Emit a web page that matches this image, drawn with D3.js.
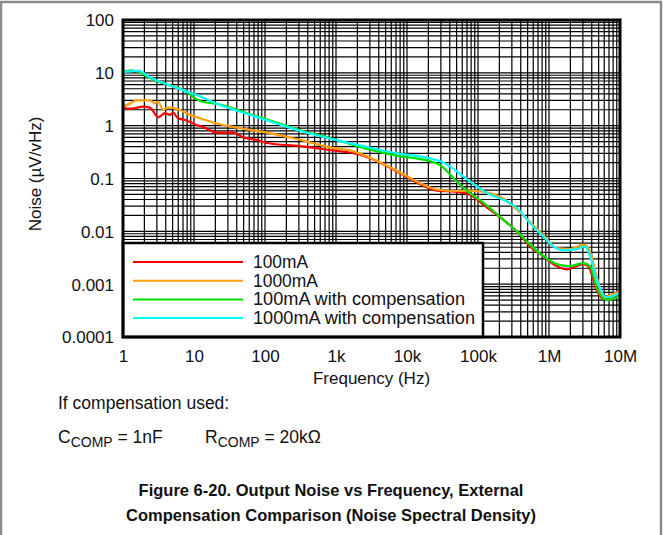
<!DOCTYPE html>
<html><head><meta charset="utf-8">
<script src="https://cdn.jsdelivr.net/npm/d3@7"></script>
<style>
html,body{margin:0;padding:0;background:#fff;}
svg{display:block;font-family:"Liberation Sans",Arial,sans-serif;}
</style></head>
<body>
<svg id="chart" width="663" height="535"></svg>
<script>
// ---- data (frequency Hz, noise µV/√Hz) ----
const seriesNames = ["100mA", "1000mA", "100mA with compensation", "1000mA with compensation"];
const seriesColors = ["#ff0000", "#ff9f10", "#00e000", "#00ffff"];
const xTickValues = [1, 10, 100, 1e3, 1e4, 1e5, 1e6, 1e7];
const xTickLabels = ["1", "10", "100", "1k", "10k", "100k", "1M", "10M"];
const yTickValues = [100, 10, 1, 0.1, 0.01, 0.001, 0.0001];
const yTickLabels = ["100", "10", "1", "0.1", "0.01", "0.001", "0.0001"];

const red100mA = [[1.0,2.35],[1.13,2.1],[1.3,2.1],[1.93,2.3],[2.4,2.2],[3.14,1.44],[3.9,1.72],[4.59,1.6],[5.06,1.77],[5.95,1.38],[7.47,1.28],[10.9,1.03],[13.4,0.95],[20.9,0.74],[35.4,0.74],[49,0.6],[76,0.54],[106,0.47],[311,0.41],[908,0.34],[1575,0.31],[2425,0.27],[7160,0.137],[13700,0.084],[26200,0.059],[50100,0.056],[77100,0.049],[119000,0.032],[227000,0.0166],[351000,0.01],[540000,0.0052],[832000,0.0034],[1.28e6,0.0022],[1.77e6,0.0019],[2.46e6,0.0022],[3.04e6,0.0024],[3.58e6,0.0022],[4.7e6,0.00076],[5.82e6,0.00053],[1e7,0.00066]];
const orange1000mA = [[1.0,2.6],[1.1,2.45],[1.56,3.0],[2.4,3.0],[2.8,2.65],[3.14,2.85],[3.66,2.0],[4.3,2.2],[6.35,1.98],[8.8,1.6],[12.2,1.38],[20.9,1.1],[35.4,0.95],[61.5,0.83],[106,0.74],[311,0.54],[908,0.38],[1575,0.34],[2425,0.28],[7160,0.14],[13700,0.088],[26200,0.062],[50100,0.058],[77100,0.059],[147700,0.053],[227000,0.042],[351000,0.026],[540000,0.015],[832000,0.0085],[1.28e6,0.0048],[1.98e6,0.0046],[3.04e6,0.0056],[3.58e6,0.0049],[4.7e6,0.0014],[5.82e6,0.00056],[9e6,0.00069],[1e7,0.0007]];
const green100mAComp = [[1.0,10.5],[1.3,11.2],[1.63,10.5],[2.4,8.0],[4.12,6.0],[7.0,4.8],[10.9,3.15],[13.4,2.8],[20.9,2.6],[61.5,1.65],[146,1.15],[311,0.82],[908,0.56],[2425,0.38],[7160,0.27],[18900,0.22],[29200,0.18],[50100,0.088],[77100,0.053],[119000,0.035],[227000,0.0166],[351000,0.0101],[540000,0.0056],[832000,0.0034],[1.28e6,0.0024],[1.98e6,0.0022],[3.04e6,0.0025],[3.78e6,0.0022],[4.7e6,0.00087],[6.5e6,0.0005],[1e7,0.0006]];
const cyan1000mAComp = [[1.0,10.3],[1.13,10.5],[1.63,11.0],[2.4,8.2],[4.12,6.1],[7.0,4.7],[10.9,3.8],[20.9,2.6],[61.5,1.6],[146,1.1],[311,0.8],[908,0.55],[2425,0.41],[7160,0.30],[21100,0.24],[32500,0.2],[50100,0.137],[77100,0.088],[133000,0.053],[254000,0.037],[351000,0.028],[540000,0.0143],[832000,0.008],[1.15e6,0.0052],[1.59e6,0.0044],[2.46e6,0.0046],[3.21e6,0.0052],[3.78e6,0.0034],[4.7e6,0.0012],[6.5e6,0.00056],[1e7,0.00069]];
const allSeries = [red100mA, orange1000mA, green100mAComp, cyan1000mAComp];

// ---- layout ----
const svg = d3.select("#chart");
const L = 123, R = 620, T = 20, B = 337;
const x = d3.scaleLog().domain([1, 1e7]).range([L, R]);
const y = d3.scaleLog().domain([1e-4, 100]).range([B, T]);

// outer grey frame
svg.append("path").attr("d", "M1,535 V2 H661 V535").attr("fill", "none").attr("stroke", "#8a8a8a").attr("stroke-width", 2.5);

// grid
const minorX = [], minorY = [];
for (let e = 0; e < 7; e++) for (let k = 1; k < 10; k++) minorX.push(k * Math.pow(10, e));
for (let e = -4; e < 2; e++) for (let k = 1; k < 10; k++) minorY.push(k * Math.pow(10, e));
const grid = svg.append("g").attr("stroke", "#000").attr("stroke-width", 1.2);
grid.selectAll("line.vx").data(minorX).join("line")
  .attr("x1", d => x(d)).attr("x2", d => x(d)).attr("y1", T).attr("y2", B);
grid.selectAll("line.hy").data(minorY).join("line")
  .attr("y1", d => y(d)).attr("y2", d => y(d)).attr("x1", L).attr("x2", R);

// curves
const line = d3.line().x(d => x(d[0])).y(d => y(d[1])).curve(d3.curveMonotoneX);
const plot = svg.append("g");
allSeries.forEach((s, i) => {
  plot.append("path").datum(s).attr("d", line).attr("fill", "none")
    .attr("stroke", seriesColors[i]).attr("stroke-width", 2.2);
});

// legend
const lg = svg.append("g");
lg.append("rect").attr("x", L).attr("y", 243).attr("width", 360).attr("height", B - 243)
  .attr("fill", "#fff").attr("stroke", "#000").attr("stroke-width", 2.5);
seriesNames.forEach((n, i) => {
  const yy = 262 + i * 18.7;
  lg.append("line").attr("x1", 133).attr("x2", 243).attr("y1", yy).attr("y2", yy)
    .attr("stroke", seriesColors[i]).attr("stroke-width", 2);
  lg.append("text").attr("x", 253).attr("y", yy + 6).attr("font-size", 17.5).attr("fill", "#111")
    .attr("textLength", [55, 65, 212, 222][i]).attr("lengthAdjust", "spacingAndGlyphs").text(n);
});

// plot frame
svg.append("rect").attr("x", L).attr("y", T).attr("width", R - L).attr("height", B - T)
  .attr("fill", "none").attr("stroke", "#000").attr("stroke-width", 3);

// axes labels
const xAxis = d3.axisBottom(x).tickValues(xTickValues).tickFormat((d, i) => xTickLabels[i]).tickSize(0).tickPadding(0);
const gx = svg.append("g").attr("transform", `translate(0,${B})`).call(xAxis);
gx.select(".domain").remove();
gx.selectAll("text").attr("dy", 0).attr("y", 25).attr("font-size", 17).attr("font-family", "Liberation Sans, Arial, sans-serif").attr("fill", "#111");

const yAxis = d3.axisLeft(y).tickValues(yTickValues).tickFormat((d, i) => yTickLabels[i]).tickSize(0).tickPadding(0);
const gy = svg.append("g").attr("transform", `translate(${L},0)`).call(yAxis);
gy.select(".domain").remove();
gy.selectAll("text").attr("x", -9).attr("dy", "0.35em").attr("font-size", 17).attr("font-family", "Liberation Sans, Arial, sans-serif").attr("fill", "#111");

svg.append("text").attr("x", (L + R) / 2).attr("y", 384).attr("text-anchor", "middle").attr("font-size", 17).attr("fill", "#111").text("Frequency (Hz)");
svg.append("text").attr("transform", "translate(41,174) rotate(-90)").attr("text-anchor", "middle").attr("font-size", 17).attr("fill", "#111").text("Noise (µV/vHz)");

// notes
svg.append("text").attr("x", 58).attr("y", 409).attr("font-size", 17.5).attr("fill", "#111").text("If compensation used:");
const c1 = svg.append("text").attr("x", 58).attr("y", 443).attr("font-size", 17.5).attr("fill", "#111");
c1.append("tspan").text("C");
c1.append("tspan").attr("font-size", 14).attr("dy", 4).text("COMP");
c1.append("tspan").attr("dy", -4).text(" = 1nF");
const c2 = svg.append("text").attr("x", 205).attr("y", 443).attr("font-size", 17.5).attr("fill", "#111");
c2.append("tspan").text("R");
c2.append("tspan").attr("font-size", 14).attr("dy", 4).text("COMP");
c2.append("tspan").attr("dy", -4).text(" = 20kΩ");

svg.append("text").attr("x", 331).attr("y", 496).attr("text-anchor", "middle").attr("font-size", 16.5).attr("font-weight", "bold").attr("fill", "#111").text("Figure 6-20. Output Noise vs Frequency, External");
svg.append("text").attr("x", 331).attr("y", 521).attr("text-anchor", "middle").attr("font-size", 16.5).attr("font-weight", "bold").attr("fill", "#111").text("Compensation Comparison (Noise Spectral Density)");
</script>
</body></html>
